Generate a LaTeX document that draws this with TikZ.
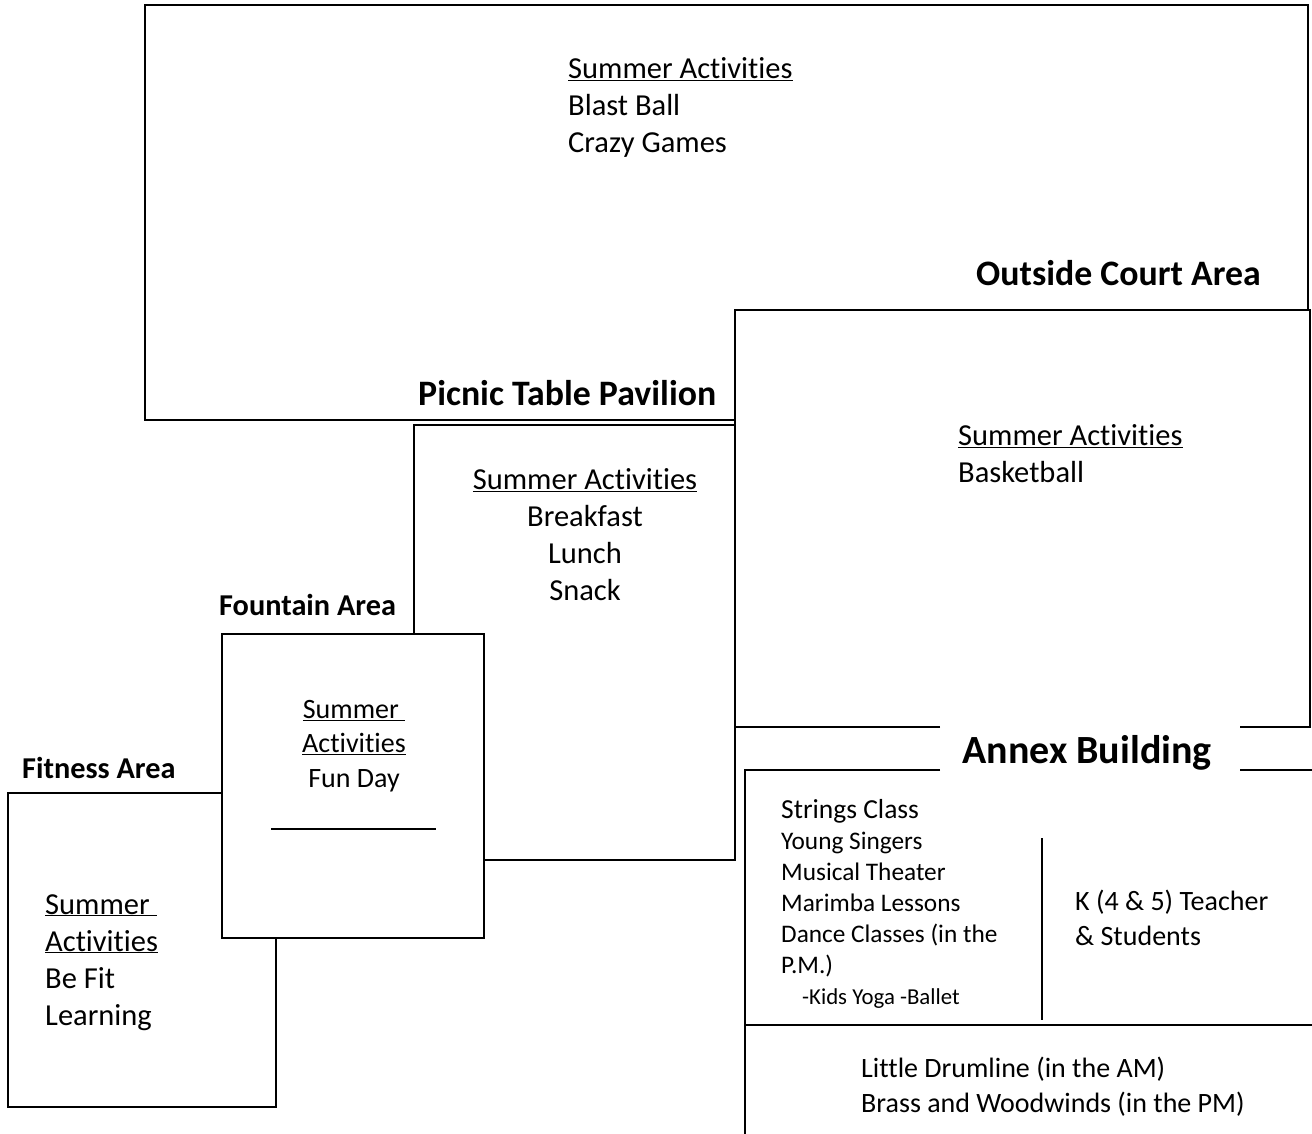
\documentclass[tikz,border=0pt]{standalone}
\usepackage{fontspec}
\setmainfont{Carlito}[Ligatures={NoCommon}]
\usetikzlibrary{positioning}

\begin{document}
\begin{tikzpicture}[
        x=1pt, y=-1pt,
        wall/.style={draw, line width=1.4pt},
        every node/.style={inner sep=0pt},
        arealabel/.style={font=\fontsize{30.3}{37}\selectfont\bfseries},
        biglabel/.style={font=\fontsize{35.8}{43}\selectfont\bfseries},
        actlist/.style={align=left, font=\fontsize{30.5}{37}\selectfont},
        smalllist/.style={align=left, font=\fontsize{28}{34.5}\selectfont}
        ]
        \useasboundingbox (0,0) rectangle (1312,1134);

        % Draw the areas
        \draw[wall] (735,420) -- (145,420) -- (145,5) -- (1308,5) -- (1308,310);
        \draw[wall] (940,727) -- (735,727) -- (735,310) -- (1310,310) -- (1310,727) -- (1240,727);
        \draw[wall] (414,634) -- (414,425) -- (735,425) -- (735,860) -- (484,860);
        \draw[wall] (222,793) -- (8,793) -- (8,1107) -- (276,1107) -- (276,938);
        \draw[wall] (222,634) rectangle (484,938);
        \draw[wall] (271,829) -- (436,829);
        \draw[wall] (940,770) -- (745,770) -- (745,1134);
        \draw[wall] (1240,770) -- (1312,770);
        \draw[wall] (745,1025) -- (1312,1025);
        \draw[wall] (1042,838) -- (1042,1020);

        % Define the nodes
        \node (court) [biglabel, anchor=base east] at (1261,285) {Outside Court Area};
        \node (courtacts) [actlist, anchor=north west] at (568,57)
            {\underline{Summer Activities}\\Blast Ball\\Crazy Games};
        \node (picnic) [biglabel, anchor=base west] at (418,405) {Picnic Table Pavilion};
        \node (picnicacts) [actlist, align=center, anchor=north] at (585,468)
            {\underline{Summer Activities}\\Breakfast\\Lunch\\Snack};
        \node (ballacts) [actlist, anchor=north west] at (958,424)
            {\underline{Summer Activities}\\Basketball};
        \node (fountain) [arealabel, anchor=base west] at (219,615) {Fountain Area};
        \node (fountainacts) [smalllist, align=center, anchor=north] at (354,700)
            {\underline{Summer\ }\\\underline{Activities}\\Fun Day};
        \node (fitness) [arealabel, anchor=base west] at (22,778) {Fitness Area};
        \node (fitnessacts) [actlist, anchor=north west] at (45,894)
            {\underline{Summer\ }\\\underline{Activities}\\Be Fit\\Learning};
        \node (annex) [font=\fontsize{40}{48}\selectfont\bfseries, anchor=base] at (1087,763) {Annex Building};
        \node (musicacts) [align=left, font=\fontsize{25.3}{31}\selectfont, anchor=north west] at (781,799)
            {{\fontsize{27.5}{31}\selectfont Strings Class}\\Young Singers\\Musical Theater\\Marimba Lessons\\Dance Classes (in the\\P.M.)\\\hspace*{21pt}{\fontsize{22.8}{31}\selectfont -Kids Yoga -Ballet}};
        \node (kinder) [smalllist, anchor=north west] at (1075,890)
            {K (4 \& 5) Teacher\\\& Students};
        \node (bandacts) [smalllist, anchor=north west] at (861,1057)
            {Little Drumline (in the AM)\\Brass and Woodwinds (in the PM)};
\end{tikzpicture}
\end{document}
